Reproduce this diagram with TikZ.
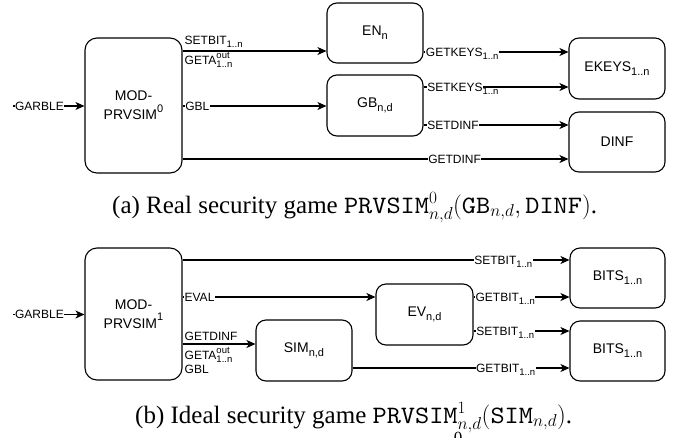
\documentclass[tikz,border=0pt]{standalone}
\usepackage{fontspec}
\setmainfont{Liberation Serif}
\newfontfamily\captt[FakeStretch=1.08]{lmmono10-regular.otf}
\newfontfamily\arialfont{Liberation Sans}
\usetikzlibrary{arrows.meta}
\newcommand\lsub[1]{\raisebox{-0.3em}{\fontsize{9.5}{10}\selectfont #1}}
\newcommand\bsub[1]{\raisebox{-0.3em}{\fontsize{11}{12}\selectfont #1}}
\newcommand\bsup[1]{\raisebox{0.55em}{\fontsize{11}{12}\selectfont #1}}
\newcommand\supsub[2]{\rlap{\raisebox{0.5em}{\fontsize{9.5}{10}\selectfont #1}}\raisebox{-0.3em}{\fontsize{9.5}{10}\selectfont #2}}
\begin{document}
\begin{tikzpicture}[x=1pt,y=-1pt,
  box/.style={draw, line width=1.1pt, rounded corners=10pt, inner sep=0pt, align=center,
    font=\arialfont\fontsize{14}{19}\selectfont},
  lab/.style={font=\arialfont\fontsize{12}{13}\selectfont, inner sep=0.5pt},
  onl/.style={lab, fill=white, anchor=base, yshift=-4.3pt},
  arr/.style={line width=1.1pt, -{Stealth[length=9pt,width=8pt,inset=2.5pt]}},
  captxt/.style={anchor=base west, inner sep=0pt, font=\fontsize{25}{29}\selectfont}]
\useasboundingbox (0,0) rectangle (683,437);

% ---------- (a) ----------
\node[box, rounded corners=12pt, minimum width=97pt, minimum height=135pt] (mod0) at (133.5,105.5) {MOD-\\PRVSIM\bsup{0}};
\node[box, minimum width=96pt, minimum height=60pt] (en) at (375,33) {EN\bsub{n}};
\node[box, minimum width=96pt, minimum height=61pt] (gb) at (375,105.5) {GB\bsub{n,d}};
\node[box, minimum width=96pt, minimum height=61pt] (ekeys) at (617,68.5) {EKEYS\bsub{1..n}};
\node[box, minimum width=96pt, minimum height=60pt] (dinf) at (617,142) {DINF};

\coordinate (gs0) at (13,106);
\draw[arr] (gs0) -- (mod0.west |- gs0) node[onl,pos=0.37] (lgarble0) {GARBLE};
\draw[arr] (mod0.east |- 0,51) -- (en.west |- 0,51);
\node[lab, anchor=base west] (lsetbit0) at (184,44.3) {SETBIT\lsub{1..n}};
\node[lab, anchor=base west] (lgeta0) at (184,64.3) {GETA\supsub{out}{1..n}};
\draw[arr] (mod0.east |- 0,106) -- (gb.west |- 0,106) node[onl,pos=0.103] (lgbl0) {GBL};
\draw[arr] (mod0.east |- 0,159) -- (dinf.west |- 0,159) node[onl,pos=0.705] (lgetdinf0) {GETDINF};
\draw[arr] (en.east |- 0,52) -- (ekeys.west |- 0,52) node[onl,pos=0.267] (lgetkeys) {GETKEYS\lsub{1..n}};
\draw[arr] (gb.east |- 0,87) -- (ekeys.west |- 0,87) node[onl,pos=0.217] (lsetkeys) {SETKEYS\rlap{\lsub{1..n}}};
\draw[arr] (gb.east |- 0,125) -- (dinf.west |- 0,125) node[onl,pos=0.203] (lsetdinf) {SETDINF};

\node[captxt] (capa) at (112,213) {(a) Real security game {\captt PRVSIM}$^0_{n,d}($\mbox{\captt GB}$_{n,d},\,$\mbox{\captt DINF}$)$.};

% ---------- (b) ----------
\node[box, rounded corners=12pt, minimum width=97pt, minimum height=132pt] (mod1) at (133.5,314) {MOD-\\PRVSIM\bsup{1}};
\node[box, minimum width=97pt, minimum height=61pt] (ev) at (424.5,314.5) {EV\bsub{n,d}};
\node[box, minimum width=96pt, minimum height=61pt] (sim) at (304,350.5) {SIM\bsub{n,d}};
\node[box, minimum width=95pt, minimum height=60pt] (bits1) at (617.5,278) {BITS\bsub{1..n}};
\node[box, minimum width=95pt, minimum height=60pt] (bits2) at (617.5,351) {BITS\bsub{1..n}};

\coordinate (gs1) at (13,314.5);
\draw[arr] (gs1) -- (mod1.west |- gs1) node[onl,pos=0.37] (lgarble1) {GARBLE};
\draw[arr] (mod1.east |- 0,260) -- (bits1.west |- 0,260) node[onl,pos=0.829] (lsetbit1) {SETBIT\lsub{1..n}};
\draw[arr] (mod1.east |- 0,297) -- (ev.west |- 0,297) node[onl,pos=0.088] (leval) {EVAL};
\draw[arr] (ev.east |- 0,297) -- (bits1.west |- 0,297) node[onl,pos=0.33] (lgetbit1) {GETBIT\lsub{1..n}};
\draw[arr] (ev.east |- 0,331) -- (bits2.west |- 0,331) node[onl,pos=0.33] (lsetbit2) {SETBIT\lsub{1..n}};
\draw[arr] (sim.east |- 0,368) -- (bits2.west |- 0,368) node[onl,pos=0.706] (lgetbit2) {GETBIT\lsub{1..n}};
\draw[arr] (mod1.east |- 0,344) -- (sim.west |- 0,344);
\node[lab, anchor=base west] (lgetdinf1) at (184,340) {GETDINF};
\node[lab, anchor=base west] (lgeta1) at (184,359.3) {GETA\supsub{out}{1..n}};
\node[lab, anchor=base west] (lgbl1) at (184,373.3) {GBL};

\node[captxt] (capb) at (135,423) {(b) Ideal security game {\captt PRVSIM}$^1_{n,d}($\mbox{\captt SIM}$_{n,d})$.};
\node[anchor=base, inner sep=0pt, font=\fontsize{17}{17}\selectfont] (frag) at (458,443) {0};
\end{tikzpicture}
\end{document}
